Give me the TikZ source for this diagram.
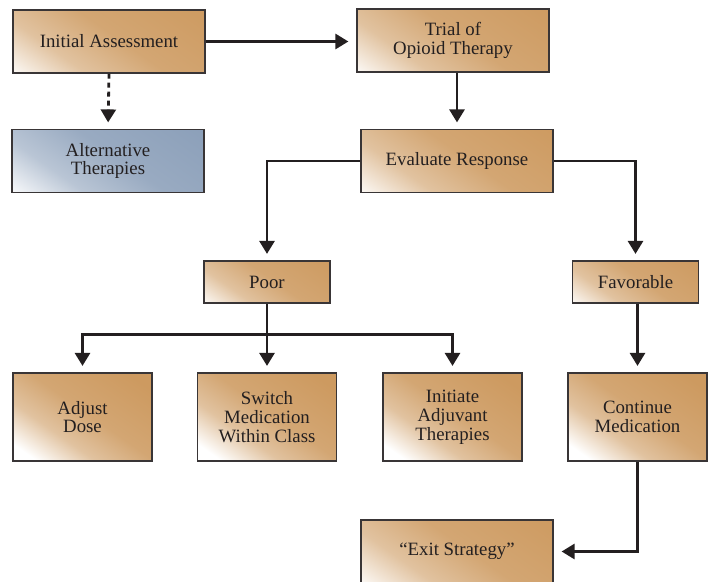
\documentclass[tikz,border=0pt]{standalone}
\usepackage{fontspec}
\setmainfont{Liberation Serif}
\usetikzlibrary{arrows.meta,calc}
\definecolor{tan}{RGB}{205,154,96}
\definecolor{slate}{RGB}{139,159,185}
\definecolor{ink}{RGB}{35,31,32}
\colorlet{boxtop}{tan}
% white in the lower left corner, full colour towards the upper right
\pgfdeclareverticalshading[boxtop]{boxshade}{100bp}{color(0bp)=(white); color(28bp)=(white);
    color(40bp)=(boxtop!60!white); color(52bp)=(boxtop!88!white); color(72bp)=(boxtop); color(100bp)=(boxtop)}
\begin{document}
\begin{tikzpicture}[x=1pt,y=-1pt,
    box/.style={draw=ink!90, line width=1.2pt, text=ink, align=center,
        font=\fontsize{18.8}{18.8}\selectfont,
        path picture={\shade[shading=boxshade, shading angle=-35]
            (path picture bounding box.center) ++(-#1/2,-#1/2) rectangle ++(#1,#1);}},
    widebox/.style={box=194, minimum width=192pt, minimum height=63pt},
    smallbox/.style={box=128, minimum width=126pt, minimum height=42pt},
    tallbox/.style={box=141, minimum width=139pt, minimum height=88pt},
    link/.style={draw=ink, line width=2.8pt},
    flow/.style={link, -{Triangle[length=13pt,width=15pt]}, shorten >=6.5pt}]
    \useasboundingbox (0,0) rectangle (709,581);

    % top row
    \node[widebox] (ia) at (109,41.5) {Initial Assessment};
    \node[widebox] (trial) at (453,40.5) {Trial of\\Opioid Therapy};
    % second row
    {\colorlet{boxtop}{slate}
    \node[widebox] (alt) at (108,161) {Alternative\\Therapies};}
    \node[widebox] (eval) at (457,161) {Evaluate Response};
    % responses
    \node[smallbox] (poor) at (267,282) {Poor};
    \node[smallbox] (fav) at (635.5,282) {Favorable};
    % actions
    \node[tallbox] (adj) at (82.5,417) {Adjust\\Dose};
    \node[tallbox] (switch) at (267,417) {Switch\\Medication\\Within Class};
    \node[tallbox] (init) at (452.5,417) {Initiate\\Adjuvant\\Therapies};
    \node[tallbox] (cont) at (637.5,417) {Continue\\Medication};
    % bottom, cut by the page edge
    \node[widebox] (exit) at (457,551.5) {``Exit Strategy''};

    % connectors
    \draw[flow, shorten >=8pt] (ia.east) -- (ia.east -| trial.west);
    \draw[flow, dash pattern=on 5pt off 4pt] (ia.south) -- (alt.north);
    \draw[flow] (trial.south -| eval) -- (eval.north);
    \draw[flow] (eval.west) -| (poor.north);
    \draw[flow] (eval.east) -| (fav.north);
    \coordinate (split) at ($(poor.south)+(0,30.5)$);
    \draw[link, line cap=rect] (split -| adj) -- (split -| init);
    \draw[flow] (split -| adj) -- (adj.north);
    \draw[flow] (poor.south) -- (poor.south |- switch.north);
    \draw[flow] (split -| init) -- (init.north);
    \draw[flow] (fav.south -| cont) -- (cont.north);
    \draw[flow, shorten >=8pt] (cont.south) |- (exit.east);
\end{tikzpicture}
\end{document}
